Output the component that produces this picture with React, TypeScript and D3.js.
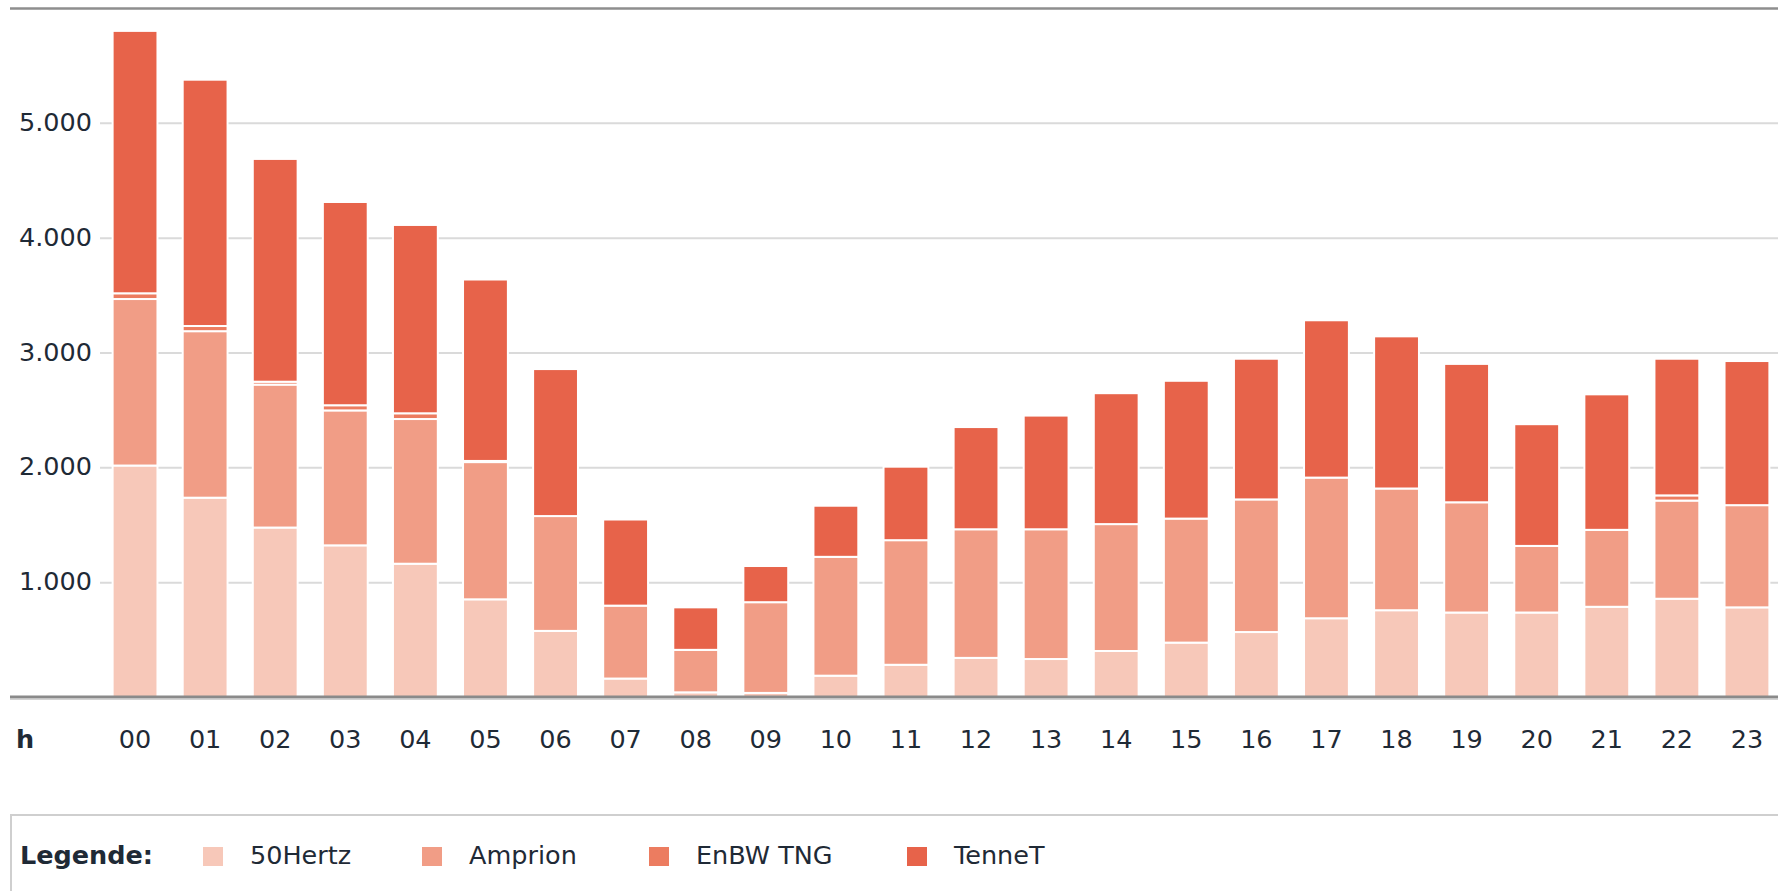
import { useEffect, useRef } from "react"
import * as d3 from "d3"

const hours = ["00", "01", "02", "03", "04", "05", "06", "07", "08", "09", "10", "11", "12", "13", "14", "15", "16", "17", "18", "19", "20", "21", "22", "23"]
const hertz50 = [2020, 1740, 1480, 1325, 1165, 855, 580, 165, 45, 40, 190, 285, 345, 335, 405, 478, 570, 690, 760, 740, 740, 790, 860, 785]
const amprion = [1450, 1450, 1245, 1175, 1260, 1195, 1000, 635, 370, 790, 1035, 1085, 1120, 1130, 1105, 1080, 1155, 1225, 1060, 960, 580, 670, 855, 890]
const enbw = [50, 45, 25, 45, 50, 10, 0, 0, 0, 0, 0, 0, 0, 0, 0, 0, 0, 0, 0, 0, 0, 0, 45, 0]
const tennet = [2285, 2145, 1940, 1770, 1640, 1580, 1280, 750, 370, 315, 445, 640, 890, 990, 1140, 1200, 1225, 1370, 1325, 1205, 1060, 1180, 1190, 1255]
const seriesNames = ["50Hertz", "Amprion", "EnBW TNG", "TenneT"]
const seriesColors = ["#f7c8b9", "#f19d86", "#ec7c60", "#e7634a"]
const yTicks = [1000, 2000, 3000, 4000, 5000]

const W = 1778
const H = 891
const TEXT = "#1f2a36"
const FONT = "'DejaVu Sans', Verdana, sans-serif"

export default function App() {
  const svgRef = useRef<SVGSVGElement>(null)

  useEffect(() => {
    const svg = d3.select(svgRef.current!)
    svg.selectAll("*").remove()

    const rows = hours.map((h, i) => ({
      hour: h,
      "50Hertz": hertz50[i],
      Amprion: amprion[i],
      "EnBW TNG": enbw[i],
      TenneT: tennet[i],
    }))
    const stacked = d3.stack<any>().keys(seriesNames)(rows)

    const x = d3.scaleBand<string>().domain(hours).range([100, 1782]).paddingInner(0.36).paddingOuter(0.18)
    const y = d3.scaleLinear().domain([0, 6000]).range([697.5, 8.5])
    const color = d3.scaleOrdinal<string, string>().domain(seriesNames).range(seriesColors)
    const de = d3.formatLocale({ decimal: ",", thousands: ".", grouping: [3], currency: ["", "€"] })
    const fmt = de.format(",d")

    // top frame line
    svg.append("line")
      .attr("x1", 10).attr("x2", W).attr("y1", y(6000)).attr("y2", y(6000))
      .attr("stroke", "#8e8e8e").attr("stroke-width", 2.5)

    // grid
    const grid = svg.append("g")
    grid.selectAll("line").data(yTicks).enter().append("line")
      .attr("x1", 100).attr("x2", W)
      .attr("y1", (d) => y(d)).attr("y2", (d) => y(d))
      .attr("stroke", "#dadada").attr("stroke-width", 2)
    grid.selectAll("text").data(yTicks).enter().append("text")
      .attr("x", 92).attr("y", (d) => y(d) + 7.5)
      .attr("text-anchor", "end")
      .attr("font-family", FONT).attr("font-size", 25.5)
      .attr("fill", TEXT)
      .text((d) => fmt(d))

    // bars
    const barsG = svg.append("g")
    barsG.selectAll("g").data(stacked).enter().append("g")
      .attr("fill", (s) => color(s.key))
      .selectAll("rect")
      .data((s) => s.filter((d) => d[1] - d[0] > 0))
      .enter().append("rect")
      .attr("x", (d) => x(d.data.hour)!)
      .attr("width", x.bandwidth())
      .attr("y", (d) => y(d[1]))
      .attr("height", (d) => y(d[0]) - y(d[1]))
      .attr("stroke", "#fff").attr("stroke-width", 2)

    // baseline
    svg.append("line")
      .attr("x1", 10).attr("x2", W).attr("y1", y(0) - 0.5).attr("y2", y(0) - 0.5)
      .attr("stroke", "#8a8a8a").attr("stroke-width", 3)
    svg.append("line")
      .attr("x1", 10).attr("x2", W).attr("y1", y(0) + 1.5).attr("y2", y(0) + 1.5)
      .attr("stroke", "#c4c4c4").attr("stroke-width", 1.5)

    // x axis labels
    svg.append("text")
      .attr("x", 16).attr("y", 748)
      .attr("font-family", FONT).attr("font-size", 25.5).attr("font-weight", "bold")
      .attr("fill", TEXT).text("h")
    svg.append("g").selectAll("text").data(hours).enter().append("text")
      .attr("x", (d) => x(d)! + x.bandwidth() / 2)
      .attr("y", 748)
      .attr("text-anchor", "middle")
      .attr("font-family", FONT).attr("font-size", 25.5)
      .attr("fill", TEXT)
      .text((d) => d)

    // legend
    const leg = svg.append("g")
    leg.append("rect")
      .attr("x", 11).attr("y", 815).attr("width", W + 20).attr("height", 120)
      .attr("fill", "#fff").attr("stroke", "#cfcfcf").attr("stroke-width", 2)
    leg.append("text")
      .attr("x", 20).attr("y", 864)
      .attr("font-family", FONT).attr("font-size", 25.5).attr("font-weight", "bold")
      .attr("fill", TEXT).text("Legende:")
    const legX = [203, 422, 649, 907]
    seriesNames.forEach((name, i) => {
      leg.append("rect")
        .attr("x", legX[i]).attr("y", 847).attr("width", 20).attr("height", 19)
        .attr("fill", color(name))
      leg.append("text")
        .attr("x", legX[i] + 47).attr("y", 864)
        .attr("font-family", FONT).attr("font-size", 25.5)
        .attr("fill", TEXT).text(name)
    })
  }, [])

  return (
    <div style={{ position: "absolute", left: 0, top: 0, width: W, height: H, background: "#fff", overflow: "hidden" }}>
      <svg ref={svgRef} width={W} height={H} style={{ display: "block" }} />
    </div>
  )
}
